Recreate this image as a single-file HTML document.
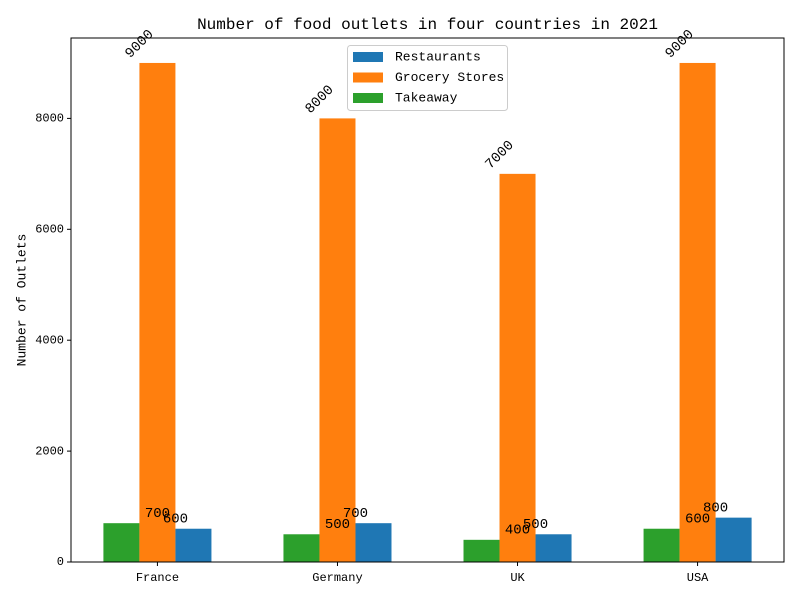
<!DOCTYPE html>
<html><head><meta charset="utf-8"><style>
body{margin:0;background:#fff}
svg text{font-family:"Liberation Mono","WenQuanYi Zen Hei",monospace;fill:#000}
</style></head><body>
<svg width="800" height="600" xmlns="http://www.w3.org/2000/svg">
<rect width="800" height="600" fill="#fff"/>
<g id="bars"></g>
<g id="ax"></g>
</svg>
<script>
const categories=["France","Germany","UK","USA"];
const restaurants=[600,700,500,800];
const grocery=[9000,8000,7000,9000];
const takeaway=[700,500,400,600];
const yTicks=[0,2000,4000,6000,8000];
const L=71,R=784,T=38,B=562,yMax=9450,xMin=-0.48,xMax=3.48;
const xs=v=>L+(v-xMin)/(xMax-xMin)*(R-L);
const ys=v=>B-v/yMax*(B-T);
const NS="http://www.w3.org/2000/svg";
const svg=document.querySelector('svg');
function mk(tag,attrs,parent,text){const e=document.createElementNS(NS,tag);for(const k in attrs)e.setAttribute(k,attrs[k]);if(text!==undefined)e.textContent=text;(parent||svg).appendChild(e);return e;}
const g=document.getElementById('bars');
const bw=0.2,pw=xs(bw)-xs(0);
const series=[[takeaway,-0.2,"#2ca02c","takeaway"],[grocery,0,"#ff7f0e","grocery"],[restaurants,0.2,"#1f77b4","restaurants"]];
categories.forEach((c,i)=>{
 series.forEach(([arr,off,col,nm])=>{
  const x0=xs(i+off-bw/2),y0=ys(arr[i]);
  const r=mk('rect',{x:x0,y:y0,width:pw,height:B-y0,fill:col},g);
  
  
 });
 let t=mk('text',{x:xs(i),y:ys(takeaway[i])-10,'font-size':14,'text-anchor':'middle','dominant-baseline':'middle'},g,takeaway[i]);
 
 
 t=mk('text',{x:xs(i+0.1),y:ys(restaurants[i])-10,'font-size':14,'text-anchor':'middle','dominant-baseline':'middle'},g,restaurants[i]);
 
 
 const cx=xs(i-0.1),cy=ys(grocery[i])-19;
 t=mk('text',{x:cx,y:cy,'font-size':14,'text-anchor':'middle','dominant-baseline':'middle',transform:`rotate(-45 ${cx} ${cy})`},g,grocery[i]);
 
 
});
const ax=document.getElementById('ax');
let f=mk('rect',{x:L,y:T,width:R-L,height:B-T,fill:'none',stroke:'#000','stroke-width':1},ax);

yTicks.forEach(v=>{
 mk('line',{x1:L-4,x2:L,y1:ys(v),y2:ys(v),stroke:'#000'},ax);
 const t=mk('text',{x:L-7,y:ys(v),'font-size':12,'text-anchor':'end','dominant-baseline':'middle'},ax,v);
 
});
categories.forEach((c,i)=>{
 mk('line',{x1:xs(i),x2:xs(i),y1:B,y2:B+4,stroke:'#000'},ax);
 const t=mk('text',{x:xs(i),y:B+16,'font-size':12,'text-anchor':'middle','dominant-baseline':'middle'},ax,c);
 
});
let t=mk('text',{x:(L+R)/2,y:25,'font-size':16,'text-anchor':'middle','dominant-baseline':'middle'},ax,'Number of food outlets in four countries in 2021');

t=mk('text',{x:22,y:(T+B)/2,'font-size':13,'text-anchor':'middle','dominant-baseline':'middle',transform:`rotate(-90 22 ${(T+B)/2})`},ax,'Number of Outlets');

const lg=mk('g',{},ax);

mk('rect',{x:347.5,y:45.5,width:160,height:65,rx:3,fill:'#fff',stroke:'#ccc'},lg);
[["Restaurants","#1f77b4"],["Grocery Stores","#ff7f0e"],["Takeaway","#2ca02c"]].forEach(([n,c],k)=>{
 const y=57+k*20.5;
 mk('rect',{x:353,y:y-5,width:30,height:10,fill:c},lg);
 const e=mk('text',{x:395,y:y,'font-size':13,'dominant-baseline':'middle'},lg,n);
 
});
</script>
</body></html>
